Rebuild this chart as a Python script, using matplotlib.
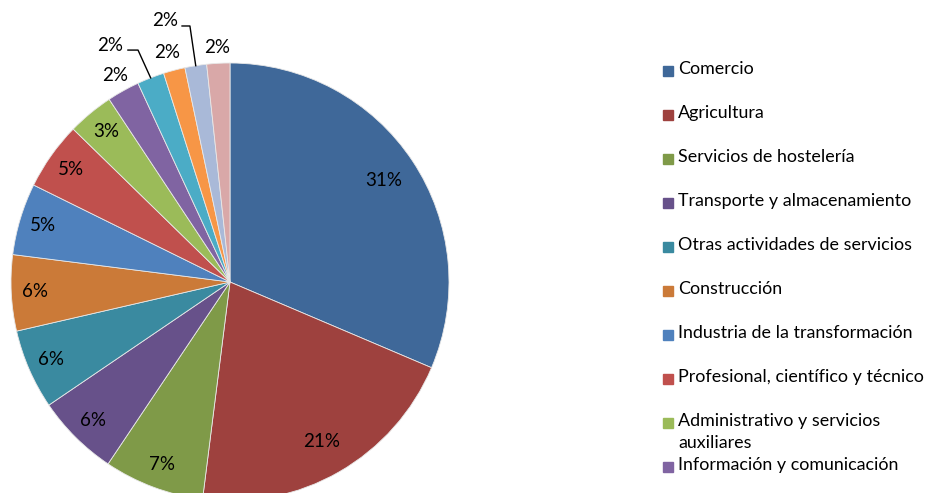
import matplotlib
matplotlib.use("Agg")
import matplotlib.pyplot as plt
from matplotlib.patches import Rectangle
import numpy as np

# --- Datos ---
sectores = [
    "Comercio", "Agricultura", "Servicios de hostelería",
    "Transporte y almacenamiento", "Otras actividades de servicios",
    "Construcción", "Industria de la transformación",
    "Profesional, científico y técnico",
    "Administrativo y servicios\nauxiliares",
    "Información y comunicación",
    "Otro 1", "Otro 2", "Otro 3", "Otro 4",
]
porcentajes = [31.4, 20.6, 7.4, 6.1, 5.9, 5.6, 5.3, 5.0, 3.4, 2.4, 2.0, 1.6, 1.6, 1.7]
colores = [
    "#3F6899", "#9E413E", "#7F9A48", "#67518A", "#3A8AA0", "#CB7A38",
    "#4F81BD", "#C0504D", "#9BBB59", "#8064A2", "#4BACC6", "#F79646",
    "#A9B9D8", "#D9A8A8",
]
n_leyenda = 10  # solo las entradas visibles

FUENTE = "Lato"
TAM = 13.5
TAM_LEY = 12.9

W, H = 932, 493
fig = plt.figure(figsize=(W / 100, H / 100), dpi=100)

# centro del pastel (230, 282) px, radio 219 px
cx, cy, r = 230, 282, 219
ax = fig.add_axes([(cx - r) / W, (H - cy - r) / H, 2 * r / W, 2 * r / H])
wedges, _ = ax.pie(porcentajes, colors=colores, startangle=90, counterclock=False,
                   radius=1, wedgeprops=dict(linewidth=0.6, edgecolor="#E8E8E8"))
ax.set_xlim(-1, 1)
ax.set_ylim(-1, 1)
ax.set_axis_off()

# etiquetas dentro
for i, w in enumerate(wedges[:9]):
    ang = np.deg2rad((w.theta1 + w.theta2) / 2)
    rr = 0.84 if i < 2 else 0.89
    ax.text(rr * np.cos(ang), rr * np.sin(ang), "%.0f%%" % porcentajes[i],
            ha="center", va="center", fontsize=TAM, family=FUENTE)

# etiquetas fuera (posiciones del texto)
fuera = {9: (-0.525, 0.945), 10: (-0.548, 1.082), 11: (-0.288, 1.050),
         12: (-0.297, 1.196), 13: (-0.059, 1.073)}
for i, (x, y) in fuera.items():
    ax.text(x, y, "%.0f%%" % porcentajes[i], ha="center", va="center",
            fontsize=TAM, family=FUENTE, clip_on=False)

# líneas guía
for i, codo in ((10, (-0.466, -0.420, 1.059)), (12, (-0.219, -0.183, 1.169))):
    w = wedges[i]
    ang = np.deg2rad((w.theta1 + w.theta2) / 2)
    ax.plot([codo[0], codo[1], np.cos(ang)], [codo[2], codo[2], np.sin(ang)],
            color="black", lw=1, clip_on=False)

# leyenda manual
y0, paso = 70, 44
for i in range(n_leyenda):
    y = y0 + paso * i
    fig.patches.append(Rectangle((663 / W, 1 - (y + 6) / H), 10 / W, 10 / H,
                                 transform=fig.transFigure, color=colores[i]))
    fig.text(678 / W, 1 - (y - 9) / H, sectores[i], ha="left", va="top",
             fontsize=TAM_LEY, family=FUENTE, linespacing=1.5)

fig.savefig("out.png", dpi=100)
